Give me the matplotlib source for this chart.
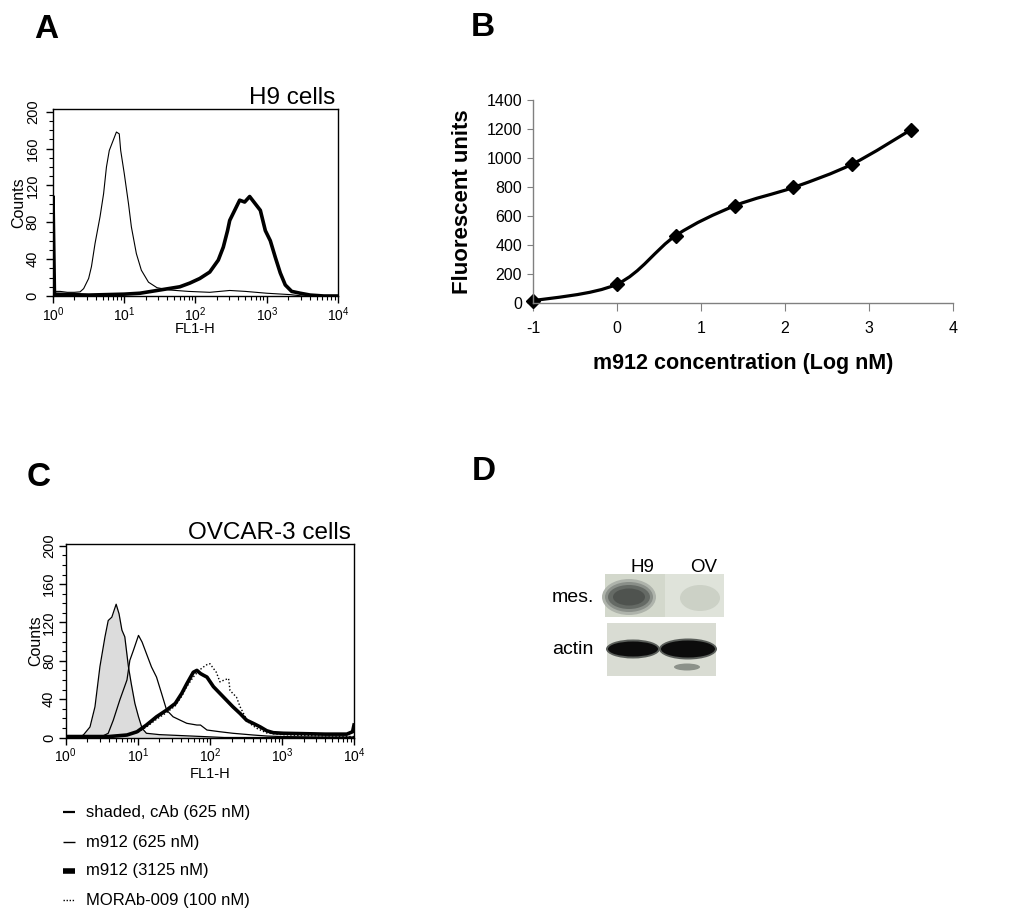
import numpy as np
import matplotlib
matplotlib.use("Agg")
import matplotlib.pyplot as plt
from matplotlib.path import Path
from matplotlib.patches import PathPatch, Rectangle, Ellipse
from matplotlib.ticker import LogLocator, MultipleLocator

plt.rcParams['font.family'] = 'Liberation Sans'
plt.rcParams['mathtext.fontset'] = 'custom'
plt.rcParams['mathtext.rm'] = 'Liberation Sans'
plt.rcParams['mathtext.it'] = 'Liberation Sans:italic'
plt.rcParams['mathtext.bf'] = 'Liberation Sans:bold'
plt.rcParams['axes.unicode_minus'] = False

# ---------------- data ----------------
# Panel A (H9 cells) : log10(FL1-H) positions and counts
a_ctrl_dec = [0.0, 0.1, 0.2, 0.3, 0.38, 0.43, 0.50, 0.54, 0.59, 0.66, 0.71, 0.75, 0.79, 0.85,
              0.89, 0.93, 0.95, 1.0, 1.06, 1.10, 1.17, 1.24, 1.34, 1.46, 1.64, 1.9, 2.2, 2.48,
              2.7, 3.0, 3.33, 3.5, 4.0]
a_ctrl_cnt = [5, 5, 4, 4, 4.5, 8, 19, 32, 57, 86, 111, 140, 158, 170,
              178, 176, 158, 133, 100, 75, 46, 28, 15, 9, 6.5, 5, 4, 6,
              5, 3, 1.5, 0, 0]
a_pos_dec = [0.0, 0.0, 0.02, 0.5, 1.0, 1.22, 1.5, 1.78, 1.92, 2.06, 2.20, 2.32, 2.39, 2.45,
             2.48, 2.55, 2.62, 2.69, 2.76, 2.84, 2.91, 2.98, 3.05, 3.12, 3.19, 3.26, 3.35,
             3.47, 3.61, 3.8, 4.0]
a_pos_cnt = [0, 108, 2, 1, 2, 3, 6.5, 10, 14, 19, 26, 39, 53, 71,
             82, 93, 104, 102, 108, 100, 93, 71, 60, 42, 25, 12, 5,
             3, 1, 0, 0]

# Panel B : m912 concentration (log nM) vs fluorescent units
b_logconc = [-1, 0, 0.7, 1.4, 2.1, 2.8, 3.5]
b_fluor = [15, 130, 465, 670, 797, 958, 1195]

# Panel C (OVCAR-3 cells)
c_cab_dec = [0.0, 0.1, 0.2, 0.245, 0.337, 0.406, 0.475, 0.545, 0.59, 0.64, 0.70, 0.74, 0.78,
             0.82, 0.87, 0.91, 0.96, 1.01, 1.06, 1.12, 1.3, 1.6, 1.9, 2.2, 4.0]
c_cab_cnt = [1, 1, 1, 2.6, 11, 32, 74, 105, 122, 125.5, 139, 129, 112,
             105, 74, 56, 35.5, 21.6, 9.6, 4.4, 3, 2, 1, 0, 0]
c_m625_dec = [0.0, 0.3, 0.5, 0.59, 0.66, 0.75, 0.85, 0.89, 0.94, 1.01, 1.06, 1.12, 1.19, 1.26,
              1.33, 1.40, 1.49, 1.59, 1.68, 1.82, 1.87, 1.96, 2.14, 2.32, 2.6, 2.8, 3.0, 3.5, 4.0]
c_m625_cnt = [0.5, 0.5, 1, 4.4, 18, 39, 60, 80.5, 91, 106.5, 99.5, 87.5, 73.6, 63,
              46, 28.6, 21.6, 18, 14.8, 13, 13, 7.8, 6, 4.4, 2.6, 1.5, 1, 0.5, 0.5]
c_m3125_dec = [0.0, 0.3, 0.6, 0.85, 0.99, 1.12, 1.26, 1.40, 1.52, 1.61, 1.68, 1.77, 1.82, 1.87,
               1.91, 1.96, 2.05, 2.14, 2.23, 2.32, 2.42, 2.51, 2.60, 2.70, 2.79, 2.88, 3.02,
               3.3, 3.6, 3.9, 3.98, 4.0]
c_m3125_cnt = [1, 1, 1, 2.6, 6, 13, 21.6, 28.6, 35.5, 46, 56, 68, 70, 66.7,
               65, 63, 53, 46, 39, 32, 25, 18, 14.8, 11, 7, 5, 4.4,
               4, 3.5, 3.5, 6, 13]
c_mor_dec = [0.0, 0.3, 0.6, 0.85, 0.99, 1.12, 1.26, 1.40, 1.52, 1.61, 1.68, 1.77, 1.85, 1.91,
             1.96, 2.0, 2.05, 2.09, 2.14, 2.20, 2.26, 2.28, 2.37, 2.42, 2.49, 2.55, 2.65, 2.79,
             3.0, 3.3, 4.0]
c_mor_cnt = [1, 1, 1, 2, 5, 11, 19, 26, 33, 43, 53, 63, 70, 73.5,
             76, 77, 72, 68, 58, 60, 61.5, 49, 42, 32, 21.6, 14.8, 9.6, 4.7,
             3, 2, 1]

legend_labels = ["shaded, cAb (625 nM)", "m912 (625 nM)", "m912 (3125 nM)", "MORAb-009 (100 nM)"]
lane_labels = ["H9", "OV"]
row_labels = ["mes.", "actin"]

# ---------------- figure ----------------
W, H = 1012, 924
fig = plt.figure(figsize=(W / 100, H / 100), dpi=100)


def px_axes(l, t, r, b):
    return fig.add_axes([l / W, 1 - b / H, (r - l) / W, (b - t) / H])


def flow_axes(ax, ymax, title, ypad):
    ax.set_xscale('log')
    ax.set_xlim(1, 1e4)
    ax.set_ylim(0, ymax)
    ax.xaxis.set_major_locator(LogLocator(base=10, numticks=10))
    ax.xaxis.set_minor_locator(LogLocator(base=10, subs=np.arange(2, 10), numticks=10))
    ax.yaxis.set_major_locator(MultipleLocator(40))
    ax.yaxis.set_minor_locator(MultipleLocator(10))
    ax.tick_params(axis='both', which='major', length=5, width=1, direction='out')
    ax.tick_params(axis='both', which='minor', length=3, width=0.8, direction='out')
    ax.tick_params(axis='x', pad=1.5, labelsize=10)
    ax.tick_params(axis='y', pad=ypad, labelsize=10.5, labelrotation=90)
    for lab in ax.get_yticklabels():
        lab.set_va('center')
    for s in ax.spines.values():
        s.set_linewidth(1.0)
    ax.set_xlabel('FL1-H', fontsize=10.5, va='center')
    ax.set_ylabel('Counts', fontsize=11.5, va='center')
    ax.text(0.99, 1.025, title, transform=ax.transAxes, ha='right', va='baseline', fontsize=17.5)


# Panel A
axA = px_axes(53, 109, 338, 296)
axA.plot(10 ** np.array(a_ctrl_dec), a_ctrl_cnt, color='k', lw=0.8)
axA.plot(10 ** np.array(a_pos_dec), a_pos_cnt, color='k', lw=2.6)
flow_axes(axA, 203, 'H9 cells', 4.5)
axA.xaxis.set_label_coords(0.5, -0.176)
axA.yaxis.set_label_coords(-0.12, 0.5)

# Panel C
axC = px_axes(65.7, 544.3, 354, 737.5)
xc = 10 ** np.array(c_cab_dec)
axC.fill_between(xc, 0, c_cab_cnt, color='#dcdcdc', lw=0)
axC.plot(xc, c_cab_cnt, color='k', lw=0.9)
axC.plot(10 ** np.array(c_m625_dec), c_m625_cnt, color='k', lw=0.9)
axC.plot(10 ** np.array(c_mor_dec), c_mor_cnt, color='k', lw=1.0, ls=(0, (1, 1.5)))
axC.plot(10 ** np.array(c_m3125_dec), c_m3125_cnt, color='k', lw=2.6)
flow_axes(axC, 201.5, 'OVCAR-3 cells', 2)
axC.xaxis.set_label_coords(0.5, -0.189)
axC.yaxis.set_label_coords(-0.103, 0.5)

# Panel B
axB = px_axes(533, 100, 953, 303)
P = np.column_stack([b_logconc, b_fluor]).astype(float)
verts = [P[0]]
codes = [Path.MOVETO]
for i in range(len(P) - 1):
    p0 = P[i - 1] if i > 0 else P[i]
    p1, p2 = P[i], P[i + 1]
    p3 = P[i + 2] if i + 2 < len(P) else P[i + 1]
    verts += [p1 + (p2 - p0) / 6, p2 - (p3 - p1) / 6, p2]
    codes += [Path.CURVE4] * 3
axB.add_patch(PathPatch(Path(verts, codes), fill=False, lw=2.3, edgecolor='k', capstyle='round'))
axB.plot(b_logconc, b_fluor, ls='none', marker='D', ms=7, color='k', clip_on=False)
axB.set_xlim(-1, 4)
axB.set_ylim(0, 1400)
axB.set_xticks(range(-1, 5))
axB.set_yticks(range(0, 1401, 200))
axB.spines['top'].set_visible(False)
axB.spines['right'].set_visible(False)
for s in ('left', 'bottom'):
    axB.spines[s].set_color('#808080')
    axB.spines[s].set_linewidth(1.0)
axB.tick_params(axis='x', length=6, color='#808080', labelsize=11.5, pad=7)
axB.tick_params(axis='y', length=4, color='#808080', labelsize=11.5, pad=4)
axB.set_xlabel('m912 concentration (Log nM)', fontsize=15.5, fontweight='bold', va='center')
axB.set_ylabel('Fluorescent units', fontsize=16, fontweight='bold', va='center')
axB.xaxis.set_label_coords(0.5, -0.296)
axB.yaxis.set_label_coords(-0.169, 0.5)

# Overlay (panel letters, legend, blot)
ov = fig.add_axes([0, 0, 1, 1])
ov.set_xlim(0, W)
ov.set_ylim(H, 0)
ov.axis('off')
for letter, (x, y) in zip("ABCD", [(46, 29), (483, 27), (39, 478), (484, 472)]):
    ov.text(x, y, letter, fontsize=24, fontweight='bold', ha='center', va='center')

leg_y = [812, 842, 871, 900]
leg_styles = [dict(lw=1.6, ls='-'), dict(lw=1.0, ls='-'), dict(lw=4.0, ls='-'), dict(lw=1.0, ls=(0, (1, 1.2)))]
for y, lab, st in zip(leg_y, legend_labels, leg_styles):
    ov.plot([63, 75], [y, y], color='k', solid_capstyle='butt', **st)
    ov.text(86, y, lab, fontsize=12, ha='left', va='center')

# Western blot (panel D)
ov.add_patch(Rectangle((605, 574), 119, 43, facecolor='#d3d8cc', edgecolor='none'))
ov.add_patch(Rectangle((665, 574), 59, 43, facecolor='#dfe3da', edgecolor='none'))
for w, h, c in [(54, 36, '#aeb3ab'), (48, 30, '#8a8f89'), (42, 24, '#656a65'), (32, 17, '#4f534f')]:
    ov.add_patch(Ellipse((629, 597), w, h, facecolor=c, edgecolor='none'))
ov.add_patch(Ellipse((700, 598), 40, 26, facecolor='#ccd1c6', edgecolor='none'))
ov.add_patch(Rectangle((607, 623), 109, 53, facecolor='#d9dcd3', edgecolor='none'))
for cx, w, h in [(633, 50, 15), (688, 54, 17)]:
    ov.add_patch(Ellipse((cx, 649), w + 4, h + 4, facecolor='#5a5e5a', edgecolor='none'))
    ov.add_patch(Ellipse((cx, 649), w, h, facecolor='#0c0c0c', edgecolor='none'))
ov.add_patch(Ellipse((687, 667), 26, 7, facecolor='#8c918a', edgecolor='none'))
for x, lab in zip([642, 704], lane_labels):
    ov.text(x, 567, lab, fontsize=13.5, ha='center', va='center')
for y, lab in zip([597, 649], row_labels):
    ov.text(573, y, lab, fontsize=14, ha='center', va='center')

fig.savefig('out.png', dpi=100)
